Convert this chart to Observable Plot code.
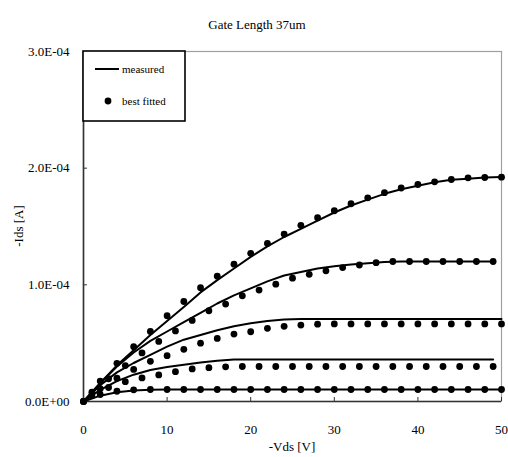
<!DOCTYPE html>
<html><head><meta charset="utf-8">
<script src="https://cdn.jsdelivr.net/npm/d3@7"></script>
<script src="https://cdn.jsdelivr.net/npm/@observablehq/plot@0.6"></script>
<style>
body{margin:0;background:#fff}
svg{font-family:"Liberation Serif","DejaVu Serif",serif}
</style>
</head><body><div id="chart"></div>
<script>
// ---- text ----
const titleText = "Gate Length 37um";
const xLabel = "-Vds [V]";
const yLabel = "-Ids [A]";
const legendMeasured = "measured";
const legendFitted = "best fitted";

// ---- ticks ----
const xTicks = [0, 10, 20, 30, 40, 50];
const yTicks = [0, 1e-4, 2e-4, 3e-4];

// ---- data (currents in units of 1e-5 A) ----
const unit = 1e-5;
const evenV = [0,2,4,6,8,10,12,14,16,18,20,22,24,26,28,30,32,34,36,38,40,42,44,46,48,50];
const oddV  = [1,3,5,7,9,11,13,15,17,19,21,23,25,27,29,31,33,35,37,39,41,43,45,47,49];
const shortV = [0,2,4,6,8,10,12,14,16,18,20,22,24,26,28,30,32,34,36,38,40,42,44,46,48,49];

// measured curves (lines)
const measured1 = [0,1.6,3.1,4.4,5.7,6.9,8.1,9.35,10.4,11.4,12.4,13.3,14.1,14.8,15.5,16.2,16.8,17.3,17.8,18.2,18.5,18.8,19.0,19.1,19.2,19.25];
const measured2 = [0,1.55,3.0,4.2,5.2,6.0,6.8,7.6,8.4,9.1,9.7,10.3,10.8,11.1,11.4,11.6,11.75,11.85,11.95,12.0,12.0,12.0,12.0,12.0,12.0,12.0];
const measured3 = [0,1.4,2.5,3.3,4.0,4.7,5.3,5.7,6.1,6.45,6.7,6.9,7.02,7.07,7.07,7.07,7.07,7.07,7.07,7.07,7.07,7.07,7.07,7.07,7.07,7.07];
const measured4 = [0,1.0,1.75,2.3,2.7,2.95,3.15,3.35,3.5,3.6,3.6,3.6,3.6,3.6,3.6,3.6,3.6,3.6,3.6,3.6,3.6,3.6,3.6,3.6,3.6,3.6];
const measured5 = [0,0.5,0.8,0.95,1.0,1.03,1.03,1.03,1.03,1.03,1.03,1.03,1.03,1.03,1.03,1.03,1.03,1.03,1.03,1.03,1.03,1.03,1.03,1.03,1.03,1.03];

// best fitted curves (dots)
const fitted1 = [0,1.75,3.27,4.7,6.0,7.35,8.57,9.75,10.74,11.77,12.7,13.55,14.35,15.1,15.75,16.35,16.95,17.46,17.9,18.3,18.6,18.83,19.03,19.17,19.2,19.23];
const fitted2 = [0.8,1.95,3.08,4.16,5.15,6.05,6.95,7.78,8.35,9.06,9.55,10.06,10.57,10.9,11.2,11.48,11.7,11.9,12.0,12.0,12.0,12.0,12.0,12.0,12.0];
const fitted3 = [0,1.1,2.0,2.75,3.44,3.93,4.47,5.0,5.41,5.78,5.98,6.27,6.44,6.55,6.63,6.65,6.65,6.65,6.65,6.65,6.65,6.65,6.65,6.65,6.65,6.65];
const fitted4 = [0.5,1.2,1.7,2.02,2.28,2.56,2.79,2.9,2.97,3.0,3.0,3.0,3.0,3.0,3.0,3.0,3.0,3.0,3.0,3.0,3.0,3.0,3.0,3.0,3.0];
const fitted5 = [0,0.6,0.88,1.0,1.03,1.03,1.03,1.03,1.03,1.03,1.03,1.03,1.03,1.03,1.03,1.03,1.03,1.03,1.03,1.03,1.03,1.03,1.03,1.03,1.03,1.03];

// ---- tables ----
const measuredSets = [[evenV, measured1],[shortV, measured2],[evenV, measured3],[shortV, measured4],[evenV, measured5]];
const fittedSets = [[evenV, fitted1],[oddV, fitted2],[evenV, fitted3],[oddV, fitted4],[evenV, fitted5]];
const measured = measuredSets.flatMap(([xs, ys], k) => xs.map((v, i) => ({curve: k, v, ids: ys[i] * unit})));
const fitted = fittedSets.flatMap(([xs, ys], k) => xs.map((v, i) => ({curve: k, v, ids: ys[i] * unit})));

function sci(d) {
  if (d === 0) return "0.0E+00";
  const e = Math.floor(Math.log10(Math.abs(d)) + 1e-9);
  const m = d / Math.pow(10, e);
  const sign = e < 0 ? "-" : "+";
  return m.toFixed(1) + "E" + sign + String(Math.abs(e)).padStart(2, "0");
}

const W = 508, H = 457, mL = 83, mR = 7, mT = 51, mB = 56;
const plotW = W - mL - mR, plotH = H - mT - mB;

const chart = Plot.plot({
  width: W, height: H,
  marginLeft: mL, marginRight: mR, marginTop: mT, marginBottom: mB,
  style: {fontFamily: '"Liberation Serif", serif', fontSize: "13px", background: "white", color: "black"},
  x: {domain: [0, 50]},
  y: {domain: [0, 3e-4]},
  marks: [
    Plot.frame({stroke: "#a0a0a0", strokeWidth: 1.2}),
    Plot.ruleX([0], {stroke: "#333", strokeWidth: 1.6}),
    Plot.ruleY([0], {stroke: "#333", strokeWidth: 1.6}),
    Plot.tickX(xTicks, {x: d => d, stroke: "#333", insetTop: plotH - 4}),
    Plot.tickY(yTicks, {y: d => d, stroke: "#333", insetRight: plotW - 4}),
    Plot.axisX(xTicks, {tickSize: 0, tickPadding: 23, tickFormat: d => String(d), label: null, fontSize: 13}),
    Plot.axisY(yTicks, {tickSize: 0, tickPadding: 14, tickFormat: sci, label: null, fontSize: 13}),
    Plot.line(measured, {x: "v", y: "ids", z: "curve", stroke: "black", strokeWidth: 2}),
    Plot.dot(fitted, {x: "v", y: "ids", r: 3.4, fill: "black", stroke: "none"})
  ]
});
document.getElementById("chart").append(chart);

// ---- annotations: title, axis titles, legend ----
const svg = d3.select(chart);
svg.append("text").attr("x", 257).attr("y", 24).attr("dy", "0.35em")
  .attr("text-anchor", "middle").attr("font-size", 13).attr("fill", "black").text(titleText);
svg.append("text").attr("x", mL + plotW / 2).attr("y", 446).attr("dy", "0.35em")
  .attr("text-anchor", "middle").attr("font-size", 13).attr("fill", "black").text(xLabel);
svg.append("text").attr("transform", `translate(18,${mT + plotH / 2}) rotate(-90)`).attr("dy", "0.35em")
  .attr("text-anchor", "middle").attr("font-size", 13).attr("fill", "black").text(yLabel);

const lg = svg.append("g");
lg.append("rect").attr("x", mL).attr("y", mT).attr("width", 102).attr("height", 70)
  .attr("fill", "white").attr("stroke", "black").attr("stroke-width", 1.6);
lg.append("line").attr("x1", 95).attr("x2", 119).attr("y1", 69).attr("y2", 69)
  .attr("stroke", "black").attr("stroke-width", 2);
lg.append("text").attr("x", 122).attr("y", 69).attr("dy", "0.35em").attr("text-anchor", "start")
  .attr("font-size", 11).attr("fill", "black").text(legendMeasured);
lg.append("circle").attr("cx", 108).attr("cy", 101).attr("r", 3.4).attr("fill", "black");
lg.append("text").attr("x", 122).attr("y", 101).attr("dy", "0.35em").attr("text-anchor", "start")
  .attr("font-size", 11).attr("fill", "black").text(legendFitted);
</script>
</body></html>
